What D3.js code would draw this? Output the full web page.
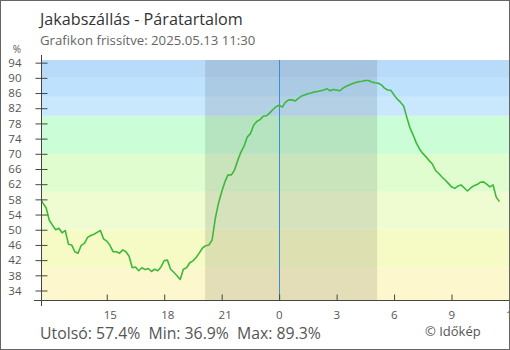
<!DOCTYPE html>
<html>
<head>
<meta charset="utf-8">
<script src="https://cdn.jsdelivr.net/npm/d3@7"></script>
<style>
  body { margin: 0; background: #fff; }
  svg { display: block; }
  text { font-family: "Open Sans", sans-serif; }
</style>
</head>
<body>
<svg id="chart" width="510" height="350"></svg>
<script>
// Relative humidity, Jakabszállás, 10-minute readings from 2025-05-12 11:30 to 2025-05-13 11:30
const title = "Jakabszállás - Páratartalom";
const subtitle = "Grafikon frissítve: 2025.05.13 11:30";
const credit = "© Időkép";
const seriesStart = new Date(2025, 4, 12, 11, 30);
const stepMinutes = 10;
const humidity = [
  58.5, 57.0, 55.8, 52.5, 51.2, 50.0, 50.4, 49.2, 49.8, 46.2,
  46.0, 44.2, 43.8, 45.9, 46.4, 48.0, 48.5, 48.8, 49.3, 49.8,
  47.6, 47.0, 45.9, 44.2, 44.2, 43.8, 44.7, 44.2, 43.0, 40.0,
  40.2, 39.2, 40.0, 39.5, 39.8, 39.0, 39.6, 39.2, 40.2, 41.9,
  42.0, 39.6, 38.8, 37.9, 36.9, 39.6, 40.0, 41.3, 41.8, 42.7,
  43.9, 45.2, 45.8, 46.0, 47.3, 53.0, 57.0, 60.0, 62.6, 64.5,
  64.4, 65.7, 68.2, 70.4, 72.0, 74.4, 75.3, 77.5, 78.5, 79.0,
  79.9, 80.0, 80.7, 81.6, 82.4, 82.8, 82.3, 83.6, 84.2, 84.2,
  83.9, 84.6, 85.2, 85.5, 85.8, 86.0, 86.3, 86.4, 86.6, 86.8,
  87.1, 86.6, 86.9, 86.8, 86.6, 87.3, 87.8, 88.1, 88.5, 88.8,
  89.0, 89.1, 89.3, 89.3, 88.9, 88.7, 88.6, 88.2, 87.3, 86.8,
  86.7, 85.5, 84.4, 83.6, 82.6, 79.6, 76.8, 74.9, 72.8, 71.2,
  70.1, 69.2, 68.2, 67.3, 65.6, 64.8, 63.9, 63.1, 62.2, 61.3,
  60.9, 61.5, 61.8, 61.0, 60.2, 61.0, 61.6, 61.9, 62.5, 62.6,
  62.0, 61.3, 61.8, 58.6, 57.4
];
const yTicks = [34, 38, 42, 46, 50, 54, 58, 62, 66, 70, 74, 78, 82, 86, 90, 94];
const xTicks = [
  new Date(2025, 4, 12, 15), new Date(2025, 4, 12, 18), new Date(2025, 4, 12, 21),
  new Date(2025, 4, 13, 0), new Date(2025, 4, 13, 3), new Date(2025, 4, 13, 6),
  new Date(2025, 4, 13, 9), new Date(2025, 4, 13, 12)
];
const bandEdges = [31.5, 40, 50, 60, 70, 80, 85, 90, 94.7];
const bandColors = ["#fdf7cd", "#f6fbc6", "#effcd2", "#e0fdd0", "#cbfdd6", "#c9e8fe", "#bee2fd", "#b9dbfa"];
const nightStart = new Date(2025, 4, 12, 20, 8);
const nightEnd = new Date(2025, 4, 13, 5, 7);
const midnight = new Date(2025, 4, 13, 0, 0);

const points = humidity.map((v, i) => ({
  t: new Date(seriesStart.getTime() + i * stepMinutes * 60000),
  v
}));

const svg = d3.select("#chart");
const W = 510, H = 350;
const plot = { left: 41, right: 509, top: 60, bottom: 300 };

const x = d3.scaleTime()
  .domain([new Date(2025, 4, 12, 11, 34), new Date(2025, 4, 13, 12, 0)])
  .range([plot.left, plot.right]);
const y = d3.scaleLinear()
  .domain([bandEdges[0], bandEdges[bandEdges.length - 1]])
  .range([plot.bottom, plot.top]);

svg.append("rect").attr("width", W).attr("height", H).attr("fill", "#fff");

svg.append("defs").append("clipPath").attr("id", "plotClip")
  .append("rect")
  .attr("x", plot.left).attr("y", plot.top)
  .attr("width", plot.right - plot.left).attr("height", plot.bottom - plot.top);

// humidity bands
svg.append("g").selectAll("rect")
  .data(bandColors)
  .join("rect")
  .attr("x", plot.left)
  .attr("width", plot.right - plot.left)
  .attr("y", (c, i) => y(bandEdges[i + 1]))
  .attr("height", (c, i) => y(bandEdges[i]) - y(bandEdges[i + 1]))
  .attr("fill", c => c);

// night shading
svg.append("rect")
  .attr("x", x(nightStart))
  .attr("width", x(nightEnd) - x(nightStart))
  .attr("y", plot.top)
  .attr("height", plot.bottom - plot.top)
  .attr("fill", "rgba(0,0,0,0.1)");

// midnight marker
svg.append("line")
  .attr("x1", Math.round(x(midnight)) + 0.5).attr("x2", Math.round(x(midnight)) + 0.5)
  .attr("y1", plot.top).attr("y2", plot.bottom)
  .attr("stroke", "#3a8fd4").attr("stroke-width", 1);

// humidity line
svg.append("path")
  .datum(points)
  .attr("clip-path", "url(#plotClip)")
  .attr("fill", "none")
  .attr("stroke", "#3cb93c")
  .attr("stroke-width", 1.6)
  .attr("stroke-linejoin", "round")
  .attr("d", d3.line().x(d => x(d.t)).y(d => y(d.v)));

// y axis with cross ticks
const yAxis = svg.append("g")
  .attr("transform", `translate(${plot.left + 0.5},0)`)
  .call(d3.axisLeft(y).tickValues(yTicks).tickSize(6).tickPadding(14));
yAxis.select(".domain").remove();
yAxis.selectAll(".tick line").attr("x1", 6).attr("x2", -6).attr("stroke", "#444");
yAxis.selectAll(".tick text")
  .attr("fill", "#555").attr("font-size", 11.5)
  .attr("font-family", "Open Sans, sans-serif");
svg.append("line")
  .attr("x1", plot.left + 0.5).attr("x2", plot.left + 0.5)
  .attr("y1", 55).attr("y2", 306)
  .attr("stroke", "#444");

// x axis with inward ticks
const xAxis = svg.append("g")
  .attr("transform", `translate(0,${plot.bottom + 0.5})`)
  .call(d3.axisBottom(x).tickValues(xTicks).tickFormat(d3.timeFormat("%-H"))
    .tickSizeInner(-6).tickSizeOuter(0).tickPadding(10));
xAxis.select(".domain").remove();
xAxis.selectAll(".tick line").attr("stroke", "#444");
xAxis.selectAll(".tick text")
  .attr("fill", "#555").attr("font-size", 11.5)
  .attr("font-family", "Open Sans, sans-serif")
  .attr("text-anchor", "start").attr("x", -3.6);
svg.append("line")
  .attr("x1", 34).attr("x2", plot.right)
  .attr("y1", plot.bottom + 0.5).attr("y2", plot.bottom + 0.5)
  .attr("stroke", "#444");

// unit label
svg.append("text").attr("x", 17).attr("y", 52.5)
  .attr("text-anchor", "middle").attr("font-size", 10).attr("fill", "#555")
  .text("%");

// titles
svg.append("text").attr("x", 40).attr("y", 25)
  .attr("font-size", 16.2).attr("fill", "#333").text(title);
svg.append("text").attr("x", 40).attr("y", 45)
  .attr("font-size", 13.2).attr("fill", "#666").text(subtitle);

// summary
const fmt = v => v.toFixed(1) + "%";
const last = humidity[humidity.length - 1];
svg.append("text").attr("x", 40).attr("y", 339)
  .attr("font-size", 15.8).attr("fill", "#555")
  .style("white-space", "pre")
  .text(`Utolsó: ${fmt(last)}  Min: ${fmt(d3.min(humidity))}  Max: ${fmt(d3.max(humidity))}`);
svg.append("text").attr("x", 425).attr("y", 336)
  .attr("font-size", 13).attr("fill", "#555")
  .text(credit);

// frame
svg.append("rect").attr("x", 0.5).attr("y", 0.5)
  .attr("width", W - 1).attr("height", H - 1)
  .attr("fill", "none").attr("stroke", "#666");
</script>
</body>
</html>
